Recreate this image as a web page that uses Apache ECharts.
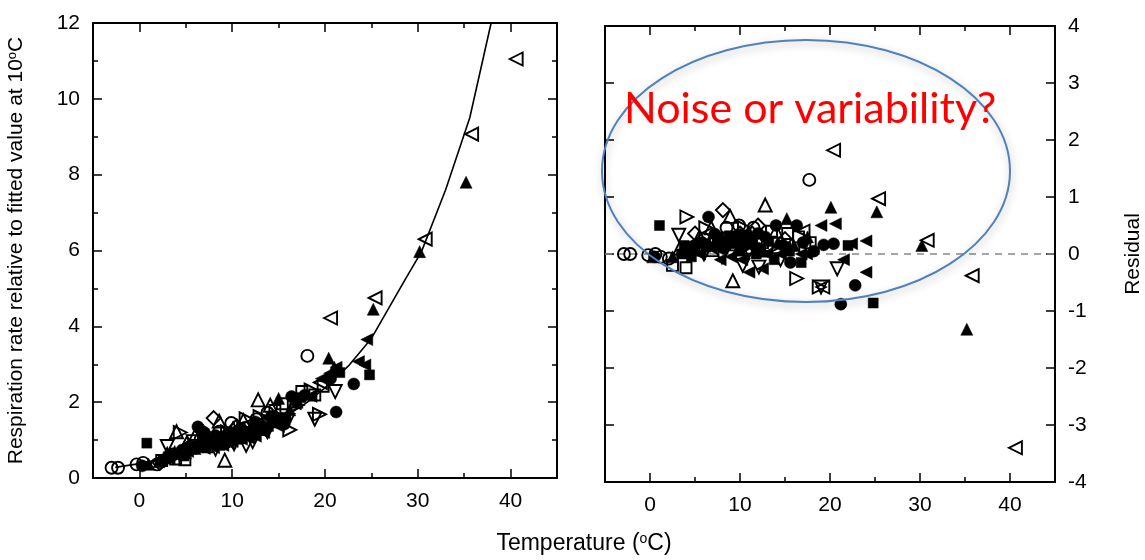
<!DOCTYPE html>
<html>
<head>
<meta charset="utf-8">
<script src="https://cdn.jsdelivr.net/npm/echarts@6/dist/echarts.min.js"></script>
<style>
    html, body { margin: 0; padding: 0; background: #fff; }
    #chart { width: 1145px; height: 560px; }
</style>
</head>
<body>
<div id="chart"></div>
<script>
    // tick values
    var xTicks = [0, 10, 20, 30, 40];
    var xMinor = [5, 15, 25, 35];
    var rateTicks = [0, 2, 4, 6, 8, 10, 12];
    var rateMinor = [1, 3, 5, 7, 9, 11];
    var residTicks = [-4, -3, -2, -1, 0, 1, 2, 3, 4];

    // fitted curve (left panel)
    var fitTemp = [-2.6, 0, 5, 10, 15, 18, 20, 22.5, 25, 28.6, 30.4, 33, 35.6, 37.9];
    var fitRate = [0.28, 0.38, 0.63, 1.0, 1.5, 1.98, 2.38, 2.95, 3.68, 5.22, 5.97, 7.6, 9.5, 12.0];

    // left panel: [temperature, relative respiration rate]
    var rateOpenCircle = [[-3.0,0.27],[-2.3,0.27],[-0.3,0.36],[0.4,0.4],[1.9,0.36],[3.6,0.62],[5.2,0.78],[6.6,1.02],[8.6,1.22],[9.9,1.45],[11.4,1.32],[12.6,1.55],[13.8,1.72],[18.1,3.22]];
    var rateFilledCircle = [[0.3,0.32],[2.8,0.5],[3.5,0.6],[4.6,0.74],[5.5,0.85],[6.3,1.35],[6.8,0.95],[7.0,1.2],[7.6,0.98],[8.2,1.12],[8.9,1.08],[9.6,1.2],[10.0,1.05],[10.4,1.22],[11.0,1.3],[11.6,1.18],[12.5,1.48],[13.0,1.42],[14.2,1.62],[14.8,1.55],[15.6,1.42],[16.4,2.15],[17.8,2.18],[20.6,2.62],[21.2,1.74],[23.1,2.48]];
    var rateOpenSquare = [[2.4,0.46],[3.9,0.5],[4.9,0.48],[6.1,0.86],[7.4,0.82],[9.1,0.96],[10.9,1.08],[12.9,1.28],[14.6,1.78],[15.4,1.96],[17.5,2.28],[18.9,2.19],[19.8,2.42]];
    var rateFilledSquare = [[0.8,0.92],[3.1,0.56],[4.2,0.62],[4.8,0.58],[5.6,0.76],[6.4,0.8],[7.1,0.92],[8.0,1.0],[8.7,0.86],[9.4,1.1],[10.7,1.02],[11.4,1.12],[12.1,1.12],[12.8,1.3],[13.9,1.36],[15.8,1.6],[17.4,2.12],[21.6,2.78],[24.8,2.72]];
    var rateOpenTriUp = [[3.0,0.62],[4.0,1.22],[5.1,0.92],[6.0,1.12],[8.6,1.5],[9.2,0.47],[10.1,1.3],[11.2,1.52],[12.8,2.06],[14.1,1.92]];
    var rateFilledTriUp = [[1.0,0.36],[2.1,0.43],[3.8,0.7],[5.0,0.66],[6.0,0.78],[6.6,0.9],[7.2,0.86],[8.4,0.95],[9.5,1.02],[10.6,1.12],[11.8,1.22],[12.2,1.38],[13.2,1.32],[14.4,1.48],[15.0,2.1],[16.2,1.8],[17.0,2.0],[20.4,3.16],[21.0,2.92],[25.2,4.45],[30.2,5.97],[35.2,7.8]];
    var rateOpenTriDown = [[3.0,0.83],[5.8,0.96],[8.2,0.76],[10.2,0.9],[11.5,0.86],[12.2,0.96],[13.8,1.22],[16.0,1.52],[18.9,1.55],[21.1,2.28]];
    var rateOpenTriLeft = [[14.5,1.52],[19.5,2.52],[20.6,4.22],[25.4,4.75],[30.8,6.3],[35.8,9.07],[40.6,11.05]];
    var rateFilledTriLeft = [[3.2,0.5],[5.2,0.7],[7.0,0.78],[8.0,0.8],[9.0,0.86],[9.6,0.92],[10.0,0.96],[11.0,1.02],[11.8,1.05],[12.5,1.1],[13.4,1.2],[14.0,1.55],[15.0,1.36],[16.8,1.95],[18.5,2.15],[19.6,2.62],[20.5,2.76],[21.2,2.92],[23.6,3.07],[24.3,2.98],[24.5,3.65]];
    var rateOpenTriRight = [[4.4,1.2],[7.0,1.02],[9.5,1.22],[11.5,1.56],[13.0,1.62],[15.2,1.6],[16.2,1.27],[17.0,1.92],[18.5,2.32],[19.4,1.68]];
    var rateOpenDiamond = [[2.2,0.4],[6.8,1.22],[8.0,1.58],[10.5,1.36],[13.5,1.46]];

    // right panel: [temperature, residual]
    var residOpenCircle = [[-2.9,0.0],[-2.2,0.0],[-0.2,-0.02],[0.6,0.0],[1.2,-0.05],[2.1,-0.08],[6.0,0.26],[8.5,0.46],[9.9,0.5],[11.5,0.46],[13.0,0.16],[17.7,1.3]];
    var residFilledCircle = [[0.5,-0.05],[4.5,0.1],[5.8,0.2],[6.5,0.65],[7.2,0.35],[7.5,0.3],[8.2,0.1],[9.0,0.2],[9.8,0.25],[10.5,0.15],[11.2,0.2],[12.0,0.36],[12.8,0.3],[14.0,0.5],[14.8,0.15],[16.3,0.5],[15.6,-0.15],[17.0,0.2],[18.2,0.05],[19.3,0.16],[20.4,0.18],[21.2,-0.88],[22.8,-0.55]];
    var residOpenSquare = [[2.5,-0.2],[4.0,-0.24],[5.5,0.1],[7.0,0.06],[9.5,0.16],[11.0,0.1],[12.5,0.2],[13.5,0.4],[15.3,0.36],[16.5,0.3],[17.2,0.1],[17.8,0.2]];
    var residFilledSquare = [[1.05,0.5],[3.5,0.0],[3.8,0.15],[4.6,-0.05],[5.0,0.05],[6.2,0.12],[7.5,0.22],[7.8,0.16],[8.8,0.32],[10.0,0.05],[10.5,0.3],[11.8,0.0],[12.2,0.1],[13.2,0.22],[13.8,-0.1],[15.5,0.05],[16.8,-0.15],[22.0,0.15],[24.8,-0.86]];
    var residOpenTriUp = [[3.3,0.1],[5.5,0.3],[6.8,0.46],[8.9,0.66],[9.2,-0.47],[11.0,0.3],[12.8,0.86],[14.0,0.4]];
    var residFilledTriUp = [[0.3,-0.05],[2.5,-0.05],[4.0,0.05],[5.0,0.1],[6.5,0.2],[7.0,0.16],[8.0,0.3],[9.3,0.2],[9.8,0.1],[11.0,0.4],[11.5,0.26],[12.5,0.05],[14.2,0.2],[15.2,0.62],[16.0,0.15],[17.5,0.3],[20.1,0.82],[25.2,0.74],[30.2,0.15],[35.2,-1.32]];
    var residOpenTriDown = [[3.2,0.33],[6.0,0.0],[8.0,-0.05],[10.3,-0.2],[11.0,0.05],[12.1,-0.23],[14.5,-0.1],[20.8,-0.26],[19.0,-0.58]];
    var residOpenTriLeft = [[17.0,0.4],[19.2,-0.58],[20.4,1.82],[25.4,0.97],[30.8,0.24],[35.8,-0.38],[40.6,-3.4]];
    var residFilledTriLeft = [[4.8,0.2],[5.5,0.0],[6.8,0.1],[7.8,-0.1],[9.0,-0.05],[9.5,0.35],[10.2,-0.1],[11.0,-0.32],[11.5,0.1],[12.5,-0.26],[13.0,0.0],[14.5,0.0],[15.0,0.1],[16.8,0.0],[17.4,0.0],[19.0,0.5],[20.6,0.53],[21.5,-0.1],[22.4,0.18],[24.0,0.23],[24.0,-0.32]];
    var residOpenTriRight = [[4.1,0.65],[6.2,0.46],[8.0,0.2],[10.5,0.46],[13.5,0.1],[16.3,-0.43],[18.8,-0.58]];
    var residOpenDiamond = [[5.0,0.36],[8.1,0.77],[10.0,0.36],[12.0,0.5],[15.0,0.26]];

    var font = 'Liberation Sans, Arial, sans-serif';

    var markerKinds = {
        openCircle:   {symbol: 'circle',   rotate: 0,   filled: false, size: 12},
        filledCircle: {symbol: 'circle',   rotate: 0,   filled: true,  size: 12},
        openSquare:   {symbol: 'rect',     rotate: 0,   filled: false, size: 11},
        filledSquare: {symbol: 'rect',     rotate: 0,   filled: true,  size: 10},
        openTriUp:    {symbol: 'triangle', rotate: 0,   filled: false, size: 13},
        filledTriUp:  {symbol: 'triangle', rotate: 0,   filled: true,  size: 12},
        openTriDown:  {symbol: 'triangle', rotate: 180, filled: false, size: 13},
        openTriLeft:  {symbol: 'triangle', rotate: 90,  filled: false, size: 13},
        filledTriLeft:{symbol: 'triangle', rotate: 90,  filled: true,  size: 12},
        openTriRight: {symbol: 'triangle', rotate: -90, filled: false, size: 13},
        openDiamond:  {symbol: 'diamond',  rotate: 0,   filled: false, size: 14}
    };

    function scatter(kind, data, xIdx, yIdx) {
        var m = markerKinds[kind];
        return {
            name: kind,
            type: 'scatter',
            xAxisIndex: xIdx,
            yAxisIndex: yIdx,
            symbol: m.symbol,
            symbolRotate: m.rotate,
            symbolSize: m.size,
            itemStyle: m.filled
                ? {color: '#000', borderColor: '#000', borderWidth: 0.5, opacity: 1}
                : {color: 'rgba(255,255,255,0)', borderColor: '#000', borderWidth: 1.9, opacity: 1},
            z: m.filled ? 4 : 3,
            data: data
        };
    }

    function axis(grid, pos, min, max, ticks, len, labels, showLine) {
        return {
            type: 'value',
            gridIndex: grid,
            position: pos,
            min: min,
            max: max,
            splitLine: {show: false},
            axisLine: {show: showLine, onZero: false, lineStyle: {color: '#000', width: 2}},
            axisTick: {show: true, customValues: ticks, inside: true, length: len, lineStyle: {color: '#000', width: 1.5}},
            axisLabel: labels
                ? {show: true, customValues: ticks, color: '#000', fontSize: 21, fontFamily: font, margin: 13}
                : {show: false}
        };
    }

    var xAxes = [
        axis(0, 'bottom', -5, 45, xTicks, 9, true, true),
        axis(0, 'top', -5, 45, xTicks, 9, false, true),
        axis(0, 'bottom', -5, 45, xMinor, 5, false, false),
        axis(0, 'top', -5, 45, xMinor, 5, false, false),
        axis(1, 'bottom', -5, 45, xTicks, 9, true, true),
        axis(1, 'top', -5, 45, xTicks, 9, false, true),
        axis(1, 'bottom', -5, 45, xMinor, 5, false, false),
        axis(1, 'top', -5, 45, xMinor, 5, false, false)
    ];

    var rateAxis = axis(0, 'left', 0, 12, rateTicks, 9, true, true);
    rateAxis.name = 'Respiration rate relative to fitted value at 10{sup|o}C';
    rateAxis.nameLocation = 'middle';
    rateAxis.nameGap = 66;
    rateAxis.nameTextStyle = {
        fontSize: 21, fontFamily: font, color: '#000',
        rich: {sup: {fontSize: 13, fontFamily: font, color: '#000', verticalAlign: 'top'}}
    };

    var residAxis = axis(1, 'right', -4, 4, residTicks, 9, true, true);
    residAxis.axisLabel.align = 'left';
    residAxis.name = 'Residual';
    residAxis.nameLocation = 'middle';
    residAxis.nameGap = 68;
    residAxis.nameTextStyle = {fontSize: 21, fontFamily: font, color: '#000'};

    var yAxes = [
        rateAxis,
        axis(0, 'right', 0, 12, rateTicks, 9, false, true),
        axis(0, 'left', 0, 12, rateMinor, 5, false, false),
        axis(0, 'right', 0, 12, rateMinor, 5, false, false),
        residAxis,
        axis(1, 'left', -4, 4, residTicks, 9, false, true)
    ];

    var series = [
        {
            name: 'fit',
            type: 'line',
            xAxisIndex: 0,
            yAxisIndex: 0,
            showSymbol: false,
            symbol: 'none',
            lineStyle: {color: '#000', width: 1.6},
            z: 5,
            data: fitTemp.map(function (t, i) { return [t, fitRate[i]]; })
        },
        scatter('openCircle', rateOpenCircle, 0, 0),
        scatter('openSquare', rateOpenSquare, 0, 0),
        scatter('openTriUp', rateOpenTriUp, 0, 0),
        scatter('openTriDown', rateOpenTriDown, 0, 0),
        scatter('openTriLeft', rateOpenTriLeft, 0, 0),
        scatter('openTriRight', rateOpenTriRight, 0, 0),
        scatter('openDiamond', rateOpenDiamond, 0, 0),
        scatter('filledCircle', rateFilledCircle, 0, 0),
        scatter('filledSquare', rateFilledSquare, 0, 0),
        scatter('filledTriUp', rateFilledTriUp, 0, 0),
        scatter('filledTriLeft', rateFilledTriLeft, 0, 0),

        scatter('openCircle', residOpenCircle, 4, 4),
        scatter('openSquare', residOpenSquare, 4, 4),
        scatter('openTriUp', residOpenTriUp, 4, 4),
        scatter('openTriDown', residOpenTriDown, 4, 4),
        scatter('openTriLeft', residOpenTriLeft, 4, 4),
        scatter('openTriRight', residOpenTriRight, 4, 4),
        scatter('openDiamond', residOpenDiamond, 4, 4),
        scatter('filledCircle', residFilledCircle, 4, 4),
        scatter('filledSquare', residFilledSquare, 4, 4),
        scatter('filledTriUp', residFilledTriUp, 4, 4),
        scatter('filledTriLeft', residFilledTriLeft, 4, 4)
    ];

    // dashed zero line on the residual panel
    series[12].markLine = {
        silent: true,
        symbol: 'none',
        z: 1,
        label: {show: false},
        lineStyle: {type: [7, 6], color: '#888', width: 1.5},
        data: [{yAxis: 0}]
    };

    var option = {
        animation: false,
        backgroundColor: '#fff',
        grid: [
            {left: 93, top: 23, width: 464, height: 455},
            {left: 605, top: 26, width: 461, height: 456}
        ],
        xAxis: xAxes,
        yAxis: yAxes,
        series: series,
        graphic: [
            {
                type: 'text',
                x: 584,
                y: 544,
                z: 100,
                style: {
                    text: 'Temperature ({sup|o}C)',
                    fontSize: 23,
                    fontFamily: font,
                    fill: '#000',
                    align: 'center',
                    verticalAlign: 'middle',
                    rich: {sup: {fontSize: 14, fontFamily: font, fill: '#000', verticalAlign: 'top'}}
                }
            },
            {
                type: 'ellipse',
                z: 100,
                shape: {cx: 806, cy: 171, rx: 204, ry: 131},
                style: {
                    fill: 'none',
                    stroke: '#4f81bd',
                    lineWidth: 2,
                    shadowBlur: 8,
                    shadowColor: 'rgba(0,0,0,0.3)',
                    shadowOffsetX: 1,
                    shadowOffsetY: 3
                }
            },
            {
                type: 'text',
                x: 624,
                y: 109,
                z: 101,
                style: {
                    text: 'Noise or variability?',
                    fontSize: 43,
                    fontFamily: 'Lato, Open Sans, sans-serif',
                    fill: '#ff0000',
                    align: 'left',
                    verticalAlign: 'middle'
                }
            }
        ]
    };

    var chart = echarts.init(document.getElementById('chart'), null, {renderer: 'canvas'});
    chart.setOption(option);
    window.addEventListener('resize', function () { chart.resize(); });
</script>
</body>
</html>
